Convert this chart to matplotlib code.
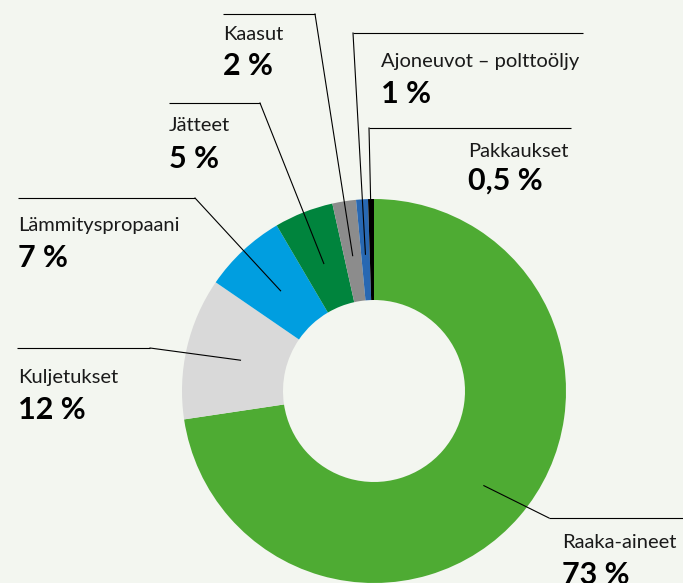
import numpy as np
import matplotlib.pyplot as plt

# data
labels = ["Raaka-aineet", "Kuljetukset", "Lämmityspropaani", "Jätteet",
          "Kaasut", "Ajoneuvot – polttoöljy", "Pakkaukset"]
shares = [73, 12, 7, 5, 2, 1, 0.5]
share_text = ["73 %", "12 %", "7 %", "5 %", "2 %", "1 %", "0,5 %"]
colors = ["#4eab33", "#d9d9d9", "#009ee0", "#00843d", "#8c8c8c", "#2868b2", "#000000"]

bg = "#f3f6f0"

# layout in pixels (y downward): label x, name baseline, pct baseline
label_pos = [(562, 548, 584), (18, 383, 419), (18, 231, 267), (169, 131, 168),
             (223, 40, 75), (381, 67, 103), (468, 157, 190)]
# leader: horizontal line (x0, x1, y) and which end is the elbow
leader_h = [(549, 690, 518, "l"), (17, 150, 348, "r"), (18, 195, 198, "r"),
            (169, 260, 103, "r"), (223, 315, 14, "r"), (353, 583, 33, "l"),
            (369, 571, 128, "l")]

cx, cy, R = 374, 391, 192

fig = plt.figure(figsize=(6.83, 5.83), dpi=100, facecolor=bg)
ax = fig.add_axes([0, 0, 1, 1])
ax.set_facecolor(bg)

wedges, _ = ax.pie(shares, colors=colors, startangle=-90, counterclock=True,
                   center=(cx, cy), radius=R,
                   wedgeprops=dict(width=101, linewidth=0))

ax.set_xlim(0, 683)
ax.set_ylim(583, 0)
ax.set_aspect("equal")
ax.axis("off")

for i, w in enumerate(wedges):
    mid = np.deg2rad((w.theta1 + w.theta2) / 2)
    r = 145 if i == 0 else 137
    px, py = cx + r * np.cos(mid), cy + r * np.sin(mid)
    x0, x1, y, side = leader_h[i]
    ex = x0 if side == "l" else x1
    ax.plot([x0, x1], [y, y], color="black", lw=0.8, solid_capstyle="butt")
    ax.plot([ex, px], [y, py], color="black", lw=0.8)

    lx, ny, py2 = label_pos[i]
    ax.text(lx, ny, labels[i], fontsize=14.5, family="Lato", color="#1a1a1a",
            va="baseline", ha="left")
    ax.text(lx, py2, share_text[i], fontsize=22, family="Lato", weight="bold",
            color="black", va="baseline", ha="left")

fig.savefig("out.png", dpi=100, facecolor=bg)
